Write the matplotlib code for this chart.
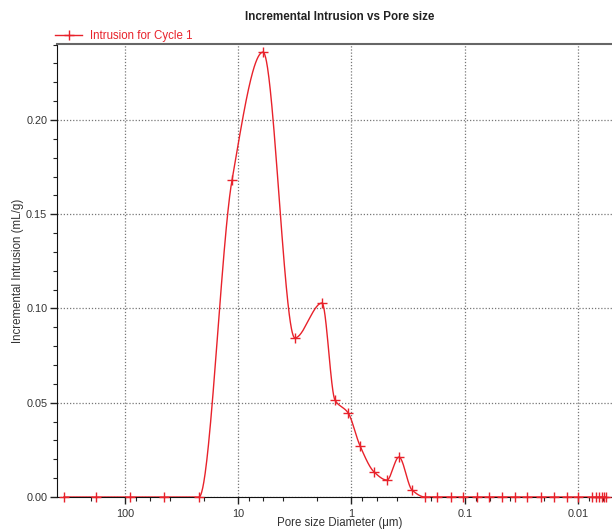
import numpy as np
import matplotlib
matplotlib.use("Agg")
import matplotlib.pyplot as plt
from matplotlib.ticker import LogLocator, FixedLocator, MultipleLocator, NullFormatter, FixedFormatter

plt.rcParams['font.family'] = ['Liberation Sans', 'DejaVu Sans']

# ---- data ----
pore_size = [346, 180, 90.3, 45.3, 22.2, 11.35, 6.04, 3.16, 1.82, 1.40, 1.07, 0.84,
             0.632, 0.486, 0.381, 0.292, 0.224, 0.176, 0.132, 0.1035, 0.078, 0.0611,
             0.0469, 0.0360, 0.0282, 0.0212, 0.0163, 0.0125, 0.0100, 0.0075, 0.0069,
             0.0065, 0.0061, 0.0059, 0.00566]
intrusion = [0, 0, 0, 0, 0, 0.168, 0.236, 0.0844, 0.1029, 0.0515, 0.0446, 0.0271,
             0.0133, 0.009, 0.0212, 0.0037, 0, 0, 0, 0, 0, 0,
             0, 0, 0, 0, 0, 0, 0, 0, 0,
             0, 0, 0, 0]
series_label = "Intrusion for Cycle 1"
x_ticks = [100, 10, 1, 0.1, 0.01]
x_tick_labels = ["100", "10", "1", "0.1", "0.01"]

RED = '#e8222b'


def pchip(x, y, xn):
    x = np.asarray(x, float); y = np.asarray(y, float)
    h = np.diff(x); d = np.diff(y) / h
    n = len(x)
    m = np.zeros(n)
    for k in range(1, n - 1):
        if d[k - 1] * d[k] > 0:
            w1 = 2 * h[k] + h[k - 1]
            w2 = h[k] + 2 * h[k - 1]
            m[k] = (w1 + w2) / (w1 / d[k - 1] + w2 / d[k])
        else:
            m[k] = 0.0
    m[0] = 0.0; m[-1] = 0.0
    out = np.empty_like(xn)
    idx = np.clip(np.searchsorted(x, xn) - 1, 0, n - 2)
    for i, (xv, k) in enumerate(zip(xn, idx)):
        t = (xv - x[k]) / h[k]
        h00 = 2 * t**3 - 3 * t**2 + 1
        h10 = t**3 - 2 * t**2 + t
        h01 = -2 * t**3 + 3 * t**2
        h11 = t**3 - t**2
        out[i] = h00 * y[k] + h10 * h[k] * m[k] + h01 * y[k + 1] + h11 * h[k] * m[k + 1]
    return out

lx = np.log10(pore_size)[::-1]
ly = np.array(intrusion)[::-1]
xs = np.linspace(lx[0], lx[-1], 2000)
ys = pchip(lx, ly, xs)

fig = plt.figure(figsize=(6.12, 5.30), dpi=100)
ax = fig.add_axes([57/612, 33/530, 1 - 57/612, (497-44)/530])

ax.plot(10**xs, ys, color=RED, lw=1.0, zorder=3)
ax.plot(pore_size, intrusion, linestyle='none', marker='+', ms=7.5, mew=1.0,
        color=RED, clip_on=False, zorder=5)

ax.set_xscale('log')
ax.set_xlim(398, 0.00501)
ax.set_ylim(0, 0.2403)

ax.xaxis.set_major_locator(FixedLocator(x_ticks))
ax.xaxis.set_major_formatter(FixedFormatter(x_tick_labels))
ax.xaxis.set_minor_locator(LogLocator(base=10, subs=(2, 4, 6, 8), numticks=20))
ax.xaxis.set_minor_formatter(NullFormatter())
ax.yaxis.set_major_locator(MultipleLocator(0.05))
ax.yaxis.set_minor_locator(MultipleLocator(0.01))
ax.yaxis.set_major_formatter(plt.FuncFormatter(lambda v, p: f"{v:.2f}"))

ax.tick_params(which='major', direction='out', length=5, width=1, colors='#222222',
               labelsize=7.8, labelcolor='#333333')
ax.tick_params(which='minor', direction='out', length=3, width=0.8, colors='#222222')
ax.tick_params(axis='y', which='major', pad=2)

ax.grid(True, which='major', color='#777777', lw=0.9, linestyle=(0, (1, 1.5)))
ax.set_axisbelow(True)

ax.spines['right'].set_visible(False)
ax.spines['top'].set_color('#666666')
ax.spines['top'].set_linewidth(1.5)
ax.spines['left'].set_color('#111111')
ax.spines['bottom'].set_color('#111111')

ax.set_xlabel("Pore size Diameter (μm)", fontsize=8.3, color='#333333', labelpad=2)
ax.xaxis.set_label_coords((340-57)/555, -0.045)
ax.set_ylabel("Incremental Intrusion (mL/g)", fontsize=8.3, color='#333333')
ax.yaxis.set_label_coords((24-57)/555, 0.5)

fig.text(340/612, 1 - 17/530, "Incremental Intrusion vs Pore size", ha='center',
         va='center', fontsize=8.4, fontweight='bold', color='#222222')

leg = ax.legend([plt.Line2D([], [], color=RED, lw=1.0, marker='+', ms=7.5, mew=1.0)],
                [series_label], loc='center left', bbox_to_anchor=(-0.003, 1 + 8/453),
                frameon=False, fontsize=8.3, handlelength=2.3, handletextpad=0.75,
                borderaxespad=0.0, borderpad=0.0)
for t in leg.get_texts():
    t.set_color(RED)

fig.savefig("out.png", dpi=100)
